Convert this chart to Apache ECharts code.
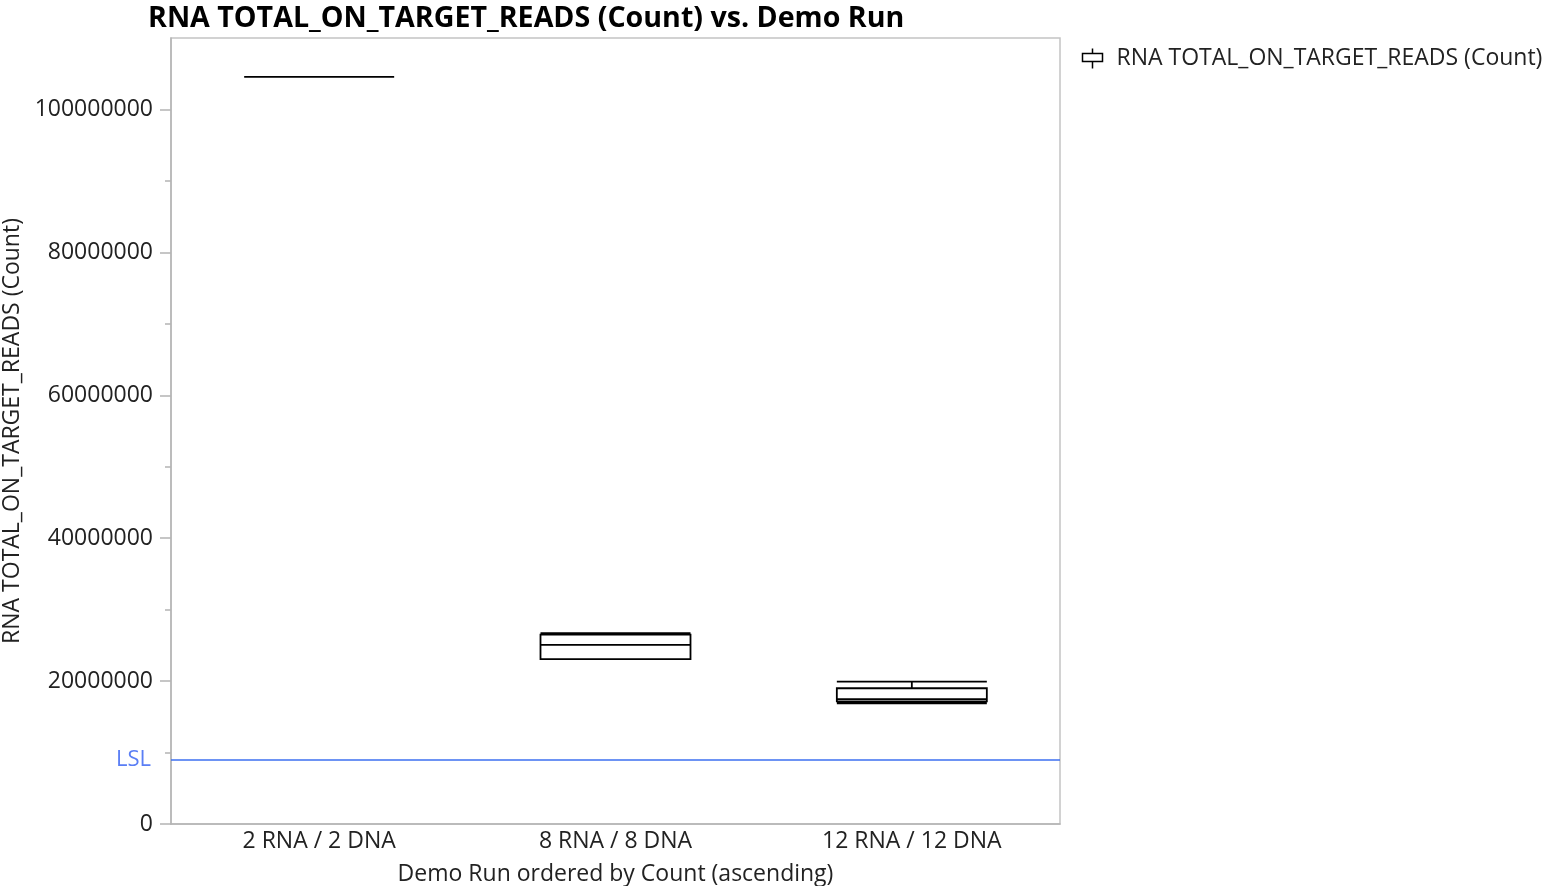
<!DOCTYPE html>
<html>
<head>
<meta charset="utf-8">
<script src="https://cdn.jsdelivr.net/npm/echarts@6/dist/echarts.min.js"></script>
<style>html,body{margin:0;padding:0;background:#fff}#c{width:1544px;height:886px}</style>
</head>
<body>
<div id="c"></div>
<script>
const titleText = 'RNA TOTAL_ON_TARGET_READS (Count) vs. Demo Run';
const seriesName = 'RNA TOTAL_ON_TARGET_READS (Count)';
const categories = ['2 RNA / 2 DNA', '8 RNA / 8 DNA', '12 RNA / 12 DNA'];
// [min, Q1, median, Q3, max]
const run2 = [104550000, 104550000, 104550000, 104550000, 104550000];
const run8 = [23070000, 23080000, 25070000, 26500000, 26700000];
const run12 = [16900000, 17150000, 17470000, 19000000, 19930000];
const majorTicks = [0, 20000000, 40000000, 60000000, 80000000, 100000000];
const minorTicks = [10000000, 30000000, 50000000, 70000000, 90000000];
const lslValue = 9000000;
const yMax = 110000000;

const font = 'Open Sans';
const chart = echarts.init(document.getElementById('c'));
chart.setOption({
  animation: false,
  backgroundColor: '#fff',
  title: {
    text: titleText, left: 143, top: -1,
    textStyle: {fontFamily: font, fontWeight: 'bold', fontSize: 28.6, color: '#000'}
  },
  legend: {
    left: 1075, top: 41, itemWidth: 20, itemHeight: 20,
    data: [{name: seriesName,
      icon: 'path://M10,0 L10,5 M0,5 L20,5 L20,13 L0,13 Z M10,13 L10,20',
      itemStyle: {color: 'none', borderColor: '#000', borderWidth: 1.5}}],
    textStyle: {fontFamily: font, fontSize: 23, color: '#222', padding: [0, 0, 0, 9]}
  },
  grid: {left: 171, top: 38, right: 484, bottom: 62, outerBoundsMode: 'none', containLabel: false,
    show: true, borderColor: '#c4c4c4', borderWidth: 1.5},
  xAxis: {
    type: 'category', data: categories,
    name: 'Demo Run ordered by Count (ascending)', nameLocation: 'middle', nameGap: 39,
    nameTextStyle: {fontFamily: font, fontSize: 23, color: '#222'},
    axisLine: {lineStyle: {color: '#b4b4b4', width: 1.5}},
    axisTick: {show: false},
    axisLabel: {fontFamily: font, fontSize: 23, color: '#222', margin: 6},
    splitLine: {show: false}
  },
  yAxis: [{
    type: 'value', min: 0, max: yMax, interval: 20000000,
    name: seriesName, nameLocation: 'middle', nameGap: 145, nameRotate: 90,
    nameTextStyle: {fontFamily: font, fontSize: 23, color: '#222'},
    axisLine: {show: true, lineStyle: {color: '#b4b4b4', width: 1.5}},
    axisTick: {show: true, length: 11, customValues: majorTicks, lineStyle: {color: '#b4b4b4', width: 1.5}},
    axisLabel: {fontFamily: font, fontSize: 23, color: '#222', margin: 18, customValues: majorTicks,
      formatter: v => String(v), padding: [4, 0, 0, 0]},
    splitLine: {show: false}
  }, {
    type: 'value', min: 0, max: yMax, position: 'left', offset: 0,
    axisLine: {show: false},
    axisTick: {show: true, length: 6, customValues: minorTicks, lineStyle: {color: '#b4b4b4', width: 1.5}},
    axisLabel: {show: false, customValues: minorTicks},
    splitLine: {show: false}
  }],
  series: [{
    name: seriesName, type: 'boxplot', yAxisIndex: 0,
    boxWidth: [150, 150],
    data: [run2, run8, run12],
    itemStyle: {color: 'none', borderColor: '#000', borderWidth: 1.8},
    markLine: {
      silent: true, symbol: 'none',
      lineStyle: {color: '#3d6ff0', width: 1.5, type: 'solid'},
      label: {show: true, position: 'start', formatter: 'LSL', color: '#5a7ef5', fontFamily: font, fontSize: 22, distance: 20},
      data: [{yAxis: lslValue}]
    }
  }]
});
</script>
</body>
</html>
